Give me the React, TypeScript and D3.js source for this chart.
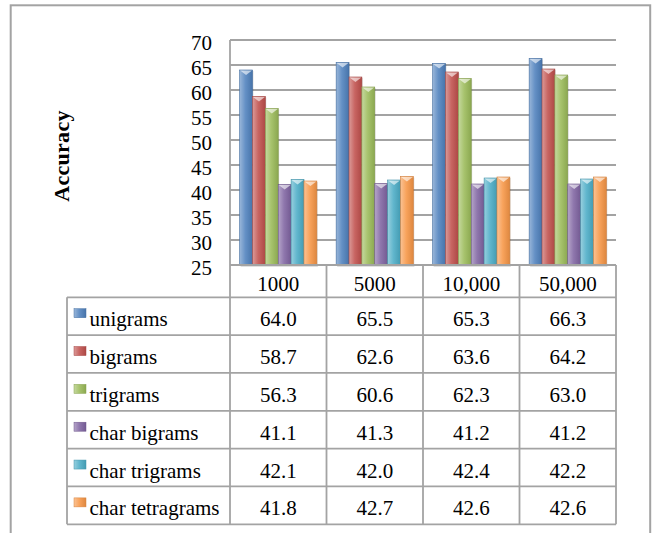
import React from "react";
import * as d3 from "d3";

const categories = ["1000", "5000", "10,000", "50,000"];
const seriesNames = ["unigrams", "bigrams", "trigrams", "char bigrams", "char trigrams", "char tetragrams"];
const unigrams = [64.0, 65.5, 65.3, 66.3];
const bigrams = [58.7, 62.6, 63.6, 64.2];
const trigrams = [56.3, 60.6, 62.3, 63.0];
const charBigrams = [41.1, 41.3, 41.2, 41.2];
const charTrigrams = [42.1, 42.0, 42.4, 42.2];
const charTetragrams = [41.8, 42.7, 42.6, 42.6];
const seriesValues = [unigrams, bigrams, trigrams, charBigrams, charTrigrams, charTetragrams];
const yTicks = [25, 30, 35, 40, 45, 50, 55, 60, 65, 70];
const colors = ["#4F81BD", "#C0504D", "#9BBB59", "#8064A2", "#4BACC6", "#F79646"];
const yLabel = "Accuracy";

const W = 652;
const H = 533;
const FONT = "'Liberation Serif', 'Times New Roman', serif";
const GRID = "#a3a3a3";
const TS = { fontFamily: FONT };

export default function App() {
  const plotLeft = 230;
  const plotRight = 616;
  const plotTop = 40;
  const plotBottom = 265;
  const tableLeft = 67;
  const headerBottom = 297.3;
  const tableBottom = 524.3;

  const x = d3.scaleBand<string>().domain(categories).range([plotLeft, plotRight]).padding(0);
  const inner = d3
    .scaleBand<number>()
    .domain(d3.range(seriesNames.length))
    .range([0, x.bandwidth()])
    .paddingInner(0)
    .paddingOuter(0.75);
  const y = d3.scaleLinear().domain([25, 70]).range([plotBottom, plotTop]);
  const row = d3.scaleBand<string>().domain(seriesNames).range([headerBottom, tableBottom]).padding(0);

  const light = (c: string, t: number) => d3.interpolateRgb(c, "#ffffff")(t);
  const dark = (c: string, k: number) => d3.color(c)!.darker(k).formatHex();

  return (
    <svg width={W} height={H} style={{ position: "absolute", left: 0, top: 0, background: "#fff" }}>
      <defs>
        {colors.map((c, i) => (
          <linearGradient key={i} id={`g${i}`} x1="0" x2="1" y1="0" y2="0">
            <stop offset="0" stopColor={light(c, 0.42)} />
            <stop offset="0.45" stopColor={light(c, 0.12)} />
            <stop offset="1" stopColor={dark(c, 0.3)} />
          </linearGradient>
        ))}
      </defs>
      <rect x={0} y={0} width={W} height={H} fill="#fff" />
      {/* outer frame */}
      <rect x={10.7} y={5.3} width={639.5} height={600} fill="none" stroke={GRID} strokeWidth={2} />

      {/* gridlines */}
      {yTicks.map((t) => (
        <line key={t} x1={plotLeft} x2={plotRight} y1={y(t)} y2={y(t)} stroke={GRID} strokeWidth={1.8} />
      ))}
      <line x1={plotLeft} x2={plotLeft} y1={plotTop} y2={plotBottom} stroke={GRID} strokeWidth={1.8} />

      {/* y tick labels */}
      {yTicks.map((t) => (
        <text key={t} x={212} y={y(t) + 2.5} textAnchor="end" dominantBaseline="central" fontSize={21} fill="#000" style={TS}>
          {t}
        </text>
      ))}

      {/* y axis title */}
      <text
        transform={`translate(69,156) rotate(-90)`}
        textAnchor="middle"
        fontSize={22}
        fontWeight="bold"
        fill="#000"
        letterSpacing={0.3}
        style={TS}
      >
        {yLabel}
      </text>

      {/* bars */}
      {categories.map((cat, ci) => (
        <g key={cat}>
          {seriesValues.map((vals, si) => {
            const bx = x(cat)! + inner(si)!;
            const bw = inner.bandwidth();
            const top = y(vals[ci]);
            const c = colors[si];
            return (
              <g key={si}>
                <rect x={bx + 1} y={top + 1} width={bw} height={plotBottom - top + 1} fill="#000" opacity={0.12} />
                <rect
                  x={bx}
                  y={top}
                  width={bw}
                  height={plotBottom - top}
                  fill={`url(#g${si})`}
                  stroke={dark(c, 0.5)}
                  strokeWidth={0.6}
                />
                <polygon
                  points={`${bx + 0.5},${top + 0.5} ${bx + bw - 0.5},${top + 0.5} ${bx + bw / 2},${top + 5}`}
                  fill="#ffffff"
                  opacity={0.6}
                />
              </g>
            );
          })}
        </g>
      ))}

      {/* table */}
      <g stroke={GRID} strokeWidth={1.8} fill="none">
        <line x1={plotLeft} x2={plotRight} y1={plotBottom} y2={plotBottom} />
        {seriesNames.map((s) => (
          <line key={s} x1={tableLeft} x2={plotRight} y1={row(s)!} y2={row(s)!} />
        ))}
        <line x1={tableLeft} x2={plotRight} y1={tableBottom} y2={tableBottom} />
        <line x1={tableLeft} x2={tableLeft} y1={headerBottom} y2={tableBottom} />
        {categories.map((cat) => (
          <line key={cat} x1={x(cat)!} x2={x(cat)!} y1={plotBottom} y2={tableBottom} />
        ))}
        <line x1={plotRight} x2={plotRight} y1={plotBottom} y2={tableBottom} />
      </g>

      {/* header labels */}
      {categories.map((cat) => (
        <text
          key={cat}
          x={x(cat)! + x.bandwidth() / 2}
          y={(plotBottom + headerBottom) / 2 + 2.5}
          textAnchor="middle"
          dominantBaseline="central"
          fontSize={21}
          fill="#000"
          style={TS}
        >
          {cat}
        </text>
      ))}

      {/* rows */}
      {seriesNames.map((s, si) => {
        const cy = row(s)! + row.bandwidth() / 2;
        return (
          <g key={s}>
            <rect x={74} y={cy - 7.5} width={12} height={9} fill={`url(#g${si})`} stroke={dark(colors[si], 0.4)} strokeWidth={0.5} />
            <text x={89.5} y={cy + 3} dominantBaseline="central" fontSize={21} fill="#000" style={TS}>
              {s}
            </text>
            {categories.map((cat, ci) => (
              <text
                key={cat}
                x={x(cat)! + x.bandwidth() / 2}
                y={cy + 3}
                textAnchor="middle"
                dominantBaseline="central"
                fontSize={21}
                fill="#000"
                style={TS}
              >
                {seriesValues[si][ci].toFixed(1)}
              </text>
            ))}
          </g>
        );
      })}
    </svg>
  );
}
